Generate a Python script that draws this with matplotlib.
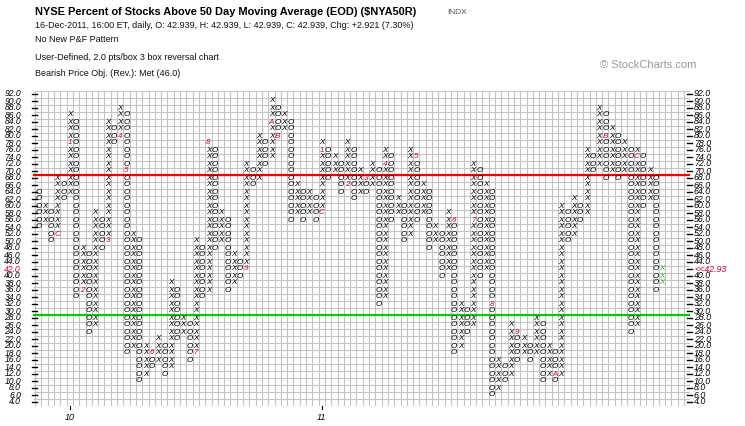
import numpy as np
import matplotlib.pyplot as plt

### P&F columns, 2.0 pts/box, 3 box reversal (values are box levels)
col_kind = list('OXOXOXOXOX' 'OXOXOXOXOX' 'OXOXOXOXOX' 'OXOXOXOXOX' 'OXOXOXOXOX'
                'OXOXOXOXOX' 'OXOXOXOXOX' 'OXOXOXOXOX' 'OXOXOXOXOX' 'OXOXOXOXOX')
col_low = [54, 56, 50, 52, 62, 64, 34, 36, 24, 26,
           48, 50, 78, 80, 18, 20, 10, 12, 14, 16,
           12, 14, 22, 24, 16, 18, 34, 36, 48, 50,
           36, 38, 40, 42, 66, 68, 72, 74, 80, 82,
           56, 58, 56, 58, 56, 58, 68, 70, 64, 66,
           62, 64, 64, 66, 32, 34, 56, 58, 50, 52,
           56, 58, 48, 50, 40, 42, 18, 20, 24, 26,
           40, 42, 6, 8, 10, 12, 16, 18, 16, 18,
           10, 12, 10, 12, 50, 52, 56, 58, 70, 72,
           68, 70, 68, 70, 24, 26, 60, 62, 36, 38]
col_high = [64, 60, 58, 68, 66, 86, 84, 48, 46, 58,
            56, 84, 82, 88, 86, 52, 50, 20, 18, 22,
            20, 38, 36, 28, 26, 50, 48, 78, 76, 58,
            56, 46, 44, 72, 70, 80, 78, 90, 88, 86,
            84, 66, 64, 64, 62, 78, 76, 74, 72, 78,
            76, 70, 68, 72, 70, 76, 74, 62, 60, 76,
            74, 66, 64, 54, 52, 58, 56, 32, 30, 72,
            70, 66, 64, 16, 14, 26, 24, 22, 20, 28,
            26, 20, 18, 60, 58, 62, 60, 76, 74, 88,
            86, 82, 80, 78, 76, 76, 74, 70, 68, 42]

### month markers (1-9, A, B, C) placed in boxes
month_col = [4, 6, 8, 12, 14, 15, 19, 26, 28, 34, 38, 39, 46, 46, 50, 53, 56, 61, 67, 70, 73, 77, 83, 91, 96]
month_val = [52, 78, 36, 50, 80, 70, 18, 18, 78, 42, 84, 80, 58, 76, 66, 68, 72, 74, 56, 56, 32, 24, 12, 80, 74]
month_txt = ['C', '1', '2', '3', '4', '5', '6', '7', '8', '9', 'A', 'B',
             'C', '1', '2', '3', '4', '5', '6', '7', '8', '9', 'A', 'B', 'C']

year_col = [6, 46]
year_txt = ['10', '11']

price_levels = list(range(4, 93, 2))
last_price = 42.93
last_box = 42
upper_line = 70
lower_line = 30

title = 'NYSE Percent of Stocks Above 50 Day Moving Average (EOD) ($NYA50R)'
info_lines = ['16-Dec-2011, 16:00 ET, daily, O: 42.939, H: 42.939, L: 42.939, C: 42.939, Chg: +2.921 (7.30%)',
              'No New P&F Pattern',
              'User-Defined, 2.0 pts/box 3 box reversal chart',
              'Bearish Price Obj. (Rev.): Met (46.0)']

W, H = 745, 426
plt.rcParams['font.family'] = ['Liberation Sans', 'DejaVu Sans']
fig = plt.figure(figsize=(W / 100, H / 100), dpi=100)

ax_l, ax_r, ax_t, ax_b = 33, 690.35, 90.5, 405.5
ax = fig.add_axes([ax_l / W, 1 - ax_b / H, (ax_r - ax_l) / W, (ax_b - ax_t) / H])
ax.set_xlim(0.16, 104.5)
ax.set_ylim(3, 93)
ax.axis('off')

def px_to_axes(px):
    return (px - ax_l) / (ax_r - ax_l)

### grid
ax.vlines(np.arange(0.5, 105, 1), 3, 93, color='#c4c4c4', lw=0.8, zorder=1)
ax.hlines(np.arange(3, 94, 2), 0.16, 104.5, color='#c4c4c4', lw=0.8, zorder=1)

### 70 / 30 lines
ax.hlines(upper_line - 1, 0.16, 104.5, color='#ee0000', lw=1.6, zorder=2)
ax.hlines(lower_line - 1, 0.16, 104.5, color='#00cc00', lw=1.6, zorder=2)

### boxes
marks = {(c, v): t for c, v, t in zip(month_col, month_val, month_txt)}
n = len(col_kind)
for i in range(n):
    c = i + 1
    clr = '#22bb22' if c == n else 'black'
    for v in range(col_low[i], col_high[i] + 1, 2):
        if (c, v) in marks:
            ax.text(c, v, marks[(c, v)], ha='center', va='center', fontsize=5.9,
                    style='italic', color='#cc0033', zorder=3)
        else:
            ax.text(c, v, col_kind[i], ha='center', va='center', fontsize=5.9,
                    style='italic', color=clr, zorder=3)

### price scale both sides
yt = ax.get_yaxis_transform()
for v in price_levels:
    ax.plot([px_to_axes(687), px_to_axes(692)], [v, v], color='black', lw=1.0,
            transform=yt, clip_on=False)
    ax.plot([px_to_axes(31.5), px_to_axes(36.5)], [v, v], color='black', lw=1.0,
            transform=yt, clip_on=False)
    if v == last_box:
        ax.text(px_to_axes(21), v, '%.1f' % v, ha='right', va='center', fontsize=6.2,
                style='italic', color='#cc0033', transform=yt, clip_on=False)
        ax.text(px_to_axes(694), v, '<<%.2f' % last_price, ha='left', va='center',
                fontsize=6.4, style='italic', color='#cc0033', transform=yt, clip_on=False)
    else:
        ax.text(px_to_axes(21), v, '%.1f' % v, ha='right', va='center', fontsize=6.2,
                style='italic', color='black', transform=yt, clip_on=False)
        ax.text(px_to_axes(694), v, '%.1f' % v, ha='left', va='center', fontsize=6.4,
                style='italic', color='black', transform=yt, clip_on=False)

### year markers
xt = ax.get_xaxis_transform()
for c, t in zip(year_col, year_txt):
    ax.plot([c, c], [0, -0.012], color='black', lw=0.8, transform=xt, clip_on=False)
    ax.text(c, -0.025, t, ha='center', va='top', fontsize=6.5, style='italic',
            transform=xt, clip_on=False)

### header
fig.text(35 / W, 1 - 12 / H, title, fontsize=7.95, fontweight='bold', va='center')
fig.text(447 / W, 1 - 12 / H, 'INDX', fontsize=6, color='#555555', va='center')
for y, s in zip([25, 39, 57, 73], info_lines):
    fig.text(35 / W, 1 - y / H, s, fontsize=6.5, va='center', color='#111111')
fig.text(600 / W, 1 - 65 / H, '\u00a9 StockCharts.com', fontsize=8, color='#999999', va='center')

fig.savefig('out.png', dpi=100)
